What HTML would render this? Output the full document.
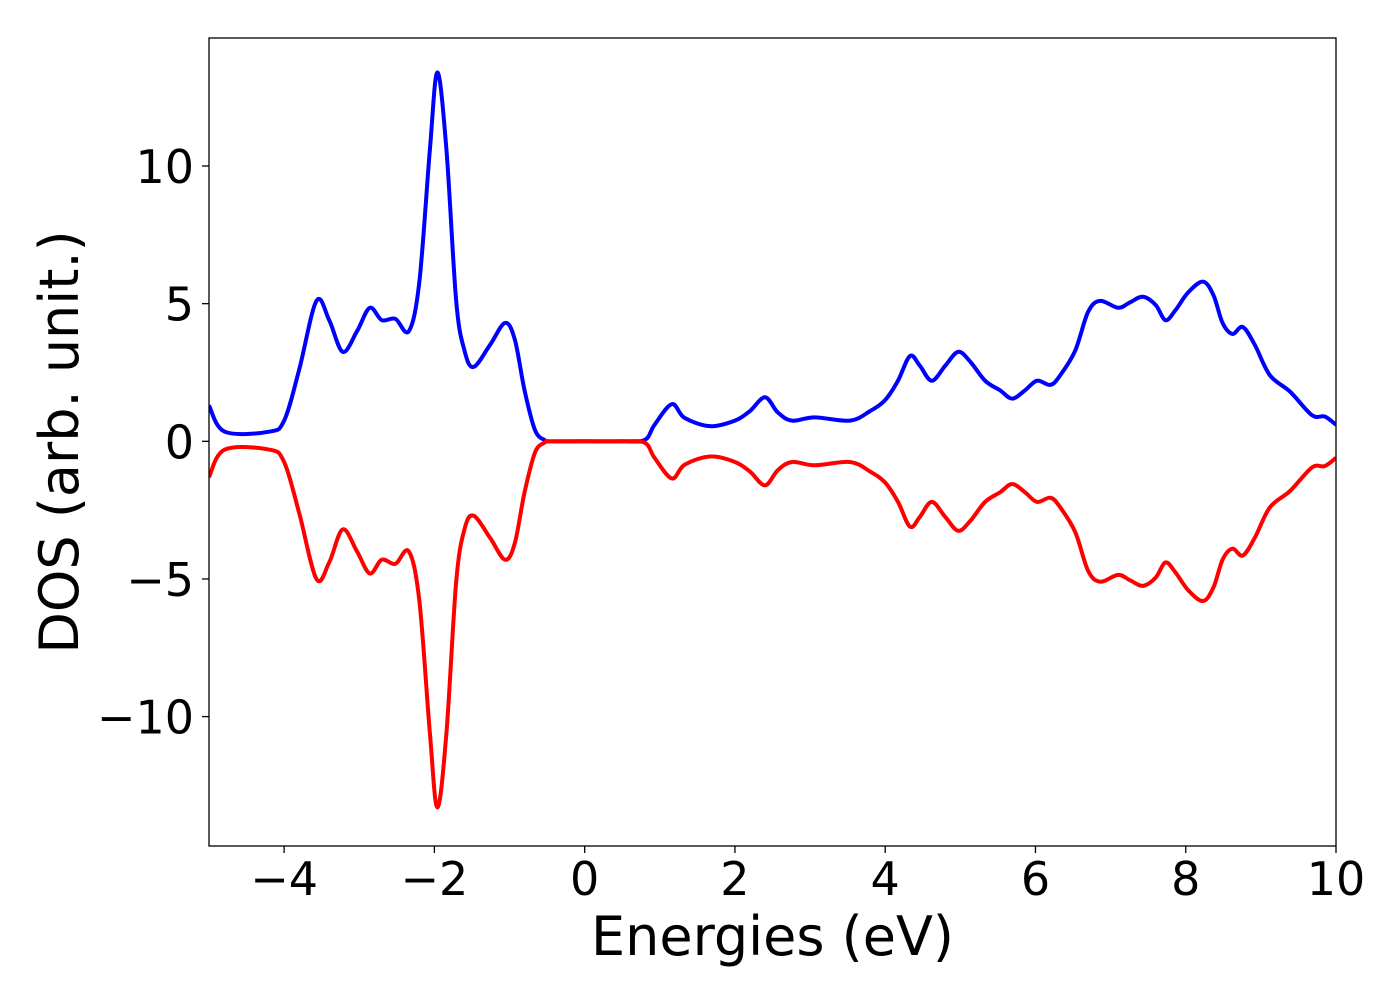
<!DOCTYPE html>
<html><head><meta charset="utf-8"><style>
html,body{margin:0;padding:0;background:#fff;}
svg{display:block;font-family:"DejaVu Sans","Liberation Sans",sans-serif;}
</style></head><body>
<svg id="chart" width="1400" height="1000" xmlns="http://www.w3.org/2000/svg"></svg>
<script>
const energies = [-5,-4.79,-4.2,-4.0,-3.8,-3.57,-3.4,-3.22,-3.03,-2.86,-2.7,-2.52,-2.34,-2.2,-2.06,-1.96,-1.84,-1.71,-1.6,-1.48,-1.26,-1.06,-0.93,-0.8,-0.66,-0.53,-0.46,0,0.5,0.8,0.93,1.16,1.33,1.67,2.0,2.2,2.4,2.57,2.76,3.06,3.53,3.8,4.0,4.17,4.33,4.46,4.62,4.8,4.97,5.13,5.33,5.53,5.69,5.86,6.02,6.2,6.33,6.53,6.7,6.86,7.1,7.26,7.43,7.6,7.73,7.86,8.03,8.23,8.37,8.49,8.62,8.76,8.92,9.12,9.39,9.68,9.85,10];
const dosUp = [1.3,0.35,0.35,0.75,2.6,5.1,4.4,3.25,4.0,4.85,4.4,4.45,4.0,5.8,10.6,13.4,10.6,5.1,3.3,2.7,3.5,4.3,3.7,1.85,0.4,0.04,0,0,0,0.05,0.6,1.35,0.85,0.55,0.75,1.1,1.6,1.05,0.75,0.87,0.75,1.1,1.5,2.2,3.1,2.75,2.2,2.75,3.25,2.9,2.2,1.85,1.55,1.85,2.2,2.05,2.4,3.3,4.7,5.1,4.85,5.05,5.25,4.95,4.4,4.75,5.4,5.8,5.3,4.3,3.9,4.15,3.5,2.4,1.8,0.95,0.9,0.6];
const dosDown = [-1.3,-0.3,-0.3,-0.75,-2.6,-5.0,-4.4,-3.2,-4.0,-4.8,-4.3,-4.45,-4.0,-5.8,-10.6,-13.3,-10.6,-5.1,-3.2,-2.7,-3.5,-4.3,-3.7,-1.85,-0.4,-0.04,0,0,0,-0.05,-0.6,-1.35,-0.85,-0.55,-0.75,-1.1,-1.6,-1.05,-0.75,-0.87,-0.75,-1.1,-1.5,-2.2,-3.1,-2.75,-2.2,-2.75,-3.25,-2.9,-2.2,-1.85,-1.55,-1.85,-2.2,-2.05,-2.4,-3.3,-4.7,-5.1,-4.85,-5.05,-5.25,-4.95,-4.4,-4.75,-5.4,-5.8,-5.3,-4.3,-3.9,-4.15,-3.5,-2.4,-1.8,-0.95,-0.9,-0.6];
const xTicks = [-4,-2,0,2,4,6,8,10];
const xTickLabels = ["\u22124","\u22122","0","2","4","6","8","10"];
const yTicks = [-10,-5,0,5,10];
const yTickLabels = ["\u221210","\u22125","0","5","10"];

const L=209,R=1336,T=38,B=846;
const xMin=-5,xMax=10,yMin=-14.7,yMax=14.65;
const sx=v=>L+(v-xMin)/(xMax-xMin)*(R-L);
const sy=v=>B-(v-yMin)/(yMax-yMin)*(B-T);
const svg=document.getElementById('chart');
const NS='http://www.w3.org/2000/svg';
function mk(tag,attrs){const e=document.createElementNS(NS,tag);for(const k in attrs)e.setAttribute(k,attrs[k]);svg.appendChild(e);return e;}

function pathFor(ys){
  const p=energies.map((x,i)=>[sx(x),sy(ys[i])]);
  let d=`M${p[0][0]},${p[0][1]}`;
  for(let i=0;i<p.length-1;i++){
    const p0=p[Math.max(0,i-1)],p1=p[i],p2=p[i+1],p3=p[Math.min(p.length-1,i+2)];
    const c1=[p1[0]+(p2[0]-p0[0])/6,p1[1]+(p2[1]-p0[1])/6];
    const c2=[p2[0]-(p3[0]-p1[0])/6,p2[1]-(p3[1]-p1[1])/6];
    d+=` C${c1[0]},${c1[1]} ${c2[0]},${c2[1]} ${p2[0]},${p2[1]}`;
  }
  return d;
}
const defs=mk('defs',{});
const cp=document.createElementNS(NS,'clipPath');cp.setAttribute('id','clip');defs.appendChild(cp);
const cr=document.createElementNS(NS,'rect');cr.setAttribute('x',L);cr.setAttribute('y',T);cr.setAttribute('width',R-L);cr.setAttribute('height',B-T);cp.appendChild(cr);

const up=mk('path',{d:pathFor(dosUp),fill:'none',stroke:'#0000ff','stroke-width':4,'clip-path':'url(#clip)'});


const dn=mk('path',{d:pathFor(dosDown),fill:'none',stroke:'#ff0000','stroke-width':4,'clip-path':'url(#clip)'});



const frame=mk('rect',{x:L,y:T,width:R-L,height:B-T,fill:'none',stroke:'#000','stroke-width':1.3});



xTicks.forEach((v,i)=>{
  const t=mk('line',{x1:sx(v),x2:sx(v),y1:B,y2:B+7,stroke:'#000','stroke-width':1.3});
  
  
  const tx=mk('text',{x:sx(v),y:B+49,'font-size':46,'text-anchor':'middle',fill:'#000'});
  tx.textContent=xTickLabels[i];
  
  
});
yTicks.forEach((v,i)=>{
  const t=mk('line',{x1:L-7,x2:L,y1:sy(v),y2:sy(v),stroke:'#000','stroke-width':1.3});
  
  
  const tx=mk('text',{x:L-15,y:sy(v)+17,'font-size':46,'text-anchor':'end',fill:'#000'});
  tx.textContent=yTickLabels[i];
  
  
});
const xl=mk('text',{x:(L+R)/2,y:955,'font-size':54,'text-anchor':'middle',fill:'#000'});
xl.textContent='Energies (eV)';


const yl=mk('text',{x:0,y:0,'font-size':54,'text-anchor':'middle',fill:'#000',transform:`translate(78,${(T+B)/2}) rotate(-90)`});
yl.textContent='DOS (arb. unit.)';


</script>
</body></html>
